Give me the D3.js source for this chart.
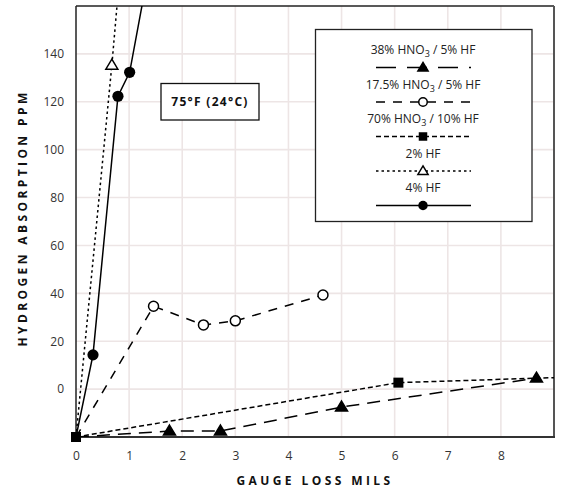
<!DOCTYPE html>
<html><head><meta charset="utf-8">
<script src="https://cdn.jsdelivr.net/npm/d3@7"></script>
<style>body{margin:0;background:#fff;} svg{display:block;font-family:"Open Sans",sans-serif;}</style>
</head><body><svg id="c" width="561" height="489"></svg>
<script>
// ---- data ----
const xTicks = [0,1,2,3,4,5,6,7,8];
const yTicks = [0,20,40,60,80,100,120,140];
const seriesNames = ["38% HNO3 / 5% HF","17.5% HNO3 / 5% HF","70% HNO3 / 10% HF","2% HF","4% HF"];
const s38x = [0, 1.76, 2.72, 5.0, 8.67];
const s38y = [-20, -17.5, -17.5, -7.5, 4.6];
const s175x = [0, 1.46, 2.4, 3.0, 4.65];
const s175y = [-20, 34.6, 26.8, 28.5, 39.3];
const s70x = [0, 6.07, 10.0];
const s70y = [-20, 2.7, 5.5];
const s2x = [0, 0.675, 0.85];
const s2y = [-20, 135.3, 180];
const s4x = [0, 0.32, 0.79, 1.01, 1.35];
const s4y = [-20, 14.3, 122.3, 132.3, 173];

const series = [
  {name: seriesNames[0], xs: s38x, ys: s38y, dash: "13,8", marker: "triFill"},
  {name: seriesNames[1], xs: s175x, ys: s175y, dash: "9,8", marker: "circOpen"},
  {name: seriesNames[2], xs: s70x, ys: s70y, dash: "5,3", marker: "square"},
  {name: seriesNames[3], xs: s2x, ys: s2y, dash: "2.5,3", marker: "triOpen"},
  {name: seriesNames[4], xs: s4x, ys: s4y, dash: null, marker: "circFill"}
];

const svg = d3.select("#c");
const L = 76, R = 554, T = 6, B = 437;
const x = d3.scaleLinear().domain([0, 9]).range([L, R]);
const y = d3.scaleLinear().domain([-20, 160]).range([B, T]);

// grid
const grid = svg.append("g");
grid.selectAll("line.v").data(xTicks.filter(d => d > 0)).join("line")
  .attr("x1", d => x(d)).attr("x2", d => x(d)).attr("y1", T).attr("y2", B)
  .attr("stroke", "#ede5e5").attr("stroke-width", 1.6);
grid.selectAll("line.h").data(yTicks).join("line")
  .attr("y1", d => y(d)).attr("y2", d => y(d)).attr("x1", L).attr("x2", R)
  .attr("stroke", "#ede5e5").attr("stroke-width", 1.6);

// axes (labels only)
const xAxis = svg.append("g").attr("transform", `translate(0,${B})`)
  .call(d3.axisBottom(x).tickValues(xTicks).tickSize(0).tickPadding(14).tickFormat(d3.format("d")));
xAxis.select(".domain").remove();
xAxis.selectAll("text").attr("font-size", 12).attr("fill", "#333").attr("font-family", "Open Sans");
const yAxis = svg.append("g").attr("transform", `translate(${L},0)`)
  .call(d3.axisLeft(y).tickValues(yTicks).tickSize(0).tickPadding(12).tickFormat(d3.format("d")));
yAxis.select(".domain").remove();
yAxis.selectAll("text").attr("font-size", 12).attr("fill", "#333").attr("font-family", "Open Sans");

// frame
svg.append("line").attr("x1", L).attr("x2", R).attr("y1", T).attr("y2", T).attr("stroke", "#222").attr("stroke-width", 1.5);
svg.append("line").attr("x1", L).attr("x2", L).attr("y1", T).attr("y2", B).attr("stroke", "#222").attr("stroke-width", 1.5);
svg.append("line").attr("x1", R).attr("x2", R).attr("y1", T).attr("y2", B).attr("stroke", "#555").attr("stroke-width", 2);
svg.append("line").attr("x1", L).attr("x2", R + 1).attr("y1", B).attr("y2", B).attr("stroke", "#333").attr("stroke-width", 2);

// clip
svg.append("clipPath").attr("id", "clip").append("rect").attr("x", L).attr("y", T).attr("width", R - L).attr("height", B - T);

const line = d3.line().x(d => x(d[0])).y(d => y(d[1]));

function drawMarker(g, type, cx, cy, s) {
  s = s || 1;
  if (type === "triFill" || type === "triOpen") {
    const h = 10 * s, w = 12 * s;
    g.append("path").attr("d", `M${cx},${cy - h * 0.6}L${cx + w / 2},${cy + h * 0.4}L${cx - w / 2},${cy + h * 0.4}Z`)
      .attr("fill", type === "triFill" ? "#000" : "#fff").attr("stroke", "#000").attr("stroke-width", 1.5);
  } else if (type === "circFill") {
    g.append("circle").attr("cx", cx).attr("cy", cy).attr("r", 5.6 * s).attr("fill", "#000");
  } else if (type === "circOpen") {
    g.append("circle").attr("cx", cx).attr("cy", cy).attr("r", 5 * s).attr("fill", "#fff").attr("stroke", "#000").attr("stroke-width", 1.5);
  } else if (type === "square") {
    const a = 10 * s;
    g.append("rect").attr("x", cx - a / 2).attr("y", cy - a / 2).attr("width", a).attr("height", a).attr("fill", "#000");
  }
}

const plotG = svg.append("g");
series.forEach(s => {
  const pts = s.xs.map((v, i) => [v, s.ys[i]]);
  plotG.append("path").attr("d", line(pts)).attr("clip-path", "url(#clip)")
    .attr("fill", "none").attr("stroke", "#000").attr("stroke-width", 1.5)
    .attr("stroke-dasharray", s.dash);
});
series.forEach(s => {
  s.xs.forEach((v, i) => {
    const yy = s.ys[i];
    if (v > 9 || yy > 160) return;
    if (v === 0 && yy === -20 && s.marker !== "square") return;
    drawMarker(plotG, s.marker, x(v), y(yy), 1);
  });
});

// temperature label
const tg = svg.append("g");
tg.append("rect").attr("x", 161).attr("y", 83.5).attr("width", 98).attr("height", 36.5)
  .attr("fill", "#fff").attr("stroke", "#111").attr("stroke-width", 1.3);
tg.append("text").attr("x", 210).attr("y", 106).attr("text-anchor", "middle")
  .attr("font-size", 12).attr("font-weight", "bold").attr("letter-spacing", "1.3px").attr("fill", "#111")
  .text("75°F (24°C)");

// legend
const lg = svg.append("g");
lg.append("rect").attr("x", 315.5).attr("y", 29.5).attr("width", 216.5).attr("height", 192)
  .attr("fill", "#fff").attr("stroke", "#222").attr("stroke-width", 1.3);
const lx = 423;
series.forEach((s, i) => {
  const ty = 54 + i * 34.5;
  const t = lg.append("text").attr("x", lx).attr("y", ty).attr("text-anchor", "middle")
    .attr("font-size", 12).attr("fill", "#222");
  const m = s.name.match(/^(.*HNO)3(.*)$/);
  if (m) {
    t.append("tspan").text(m[1]);
    t.append("tspan").attr("font-size", 9).attr("dy", 3).text("3");
    t.append("tspan").attr("dy", -3).text(m[2]);
  } else t.text(s.name);
  const ly = ty + 13.5;
  lg.append("line").attr("x1", lx - 47).attr("x2", lx + 48).attr("y1", ly).attr("y2", ly)
    .attr("stroke", "#000").attr("stroke-width", 1.5).attr("stroke-dasharray", i === 0 ? "20,11" : s.dash);
  drawMarker(lg, s.marker, lx, ly, 0.85);
});

// axis titles
svg.append("text").attr("x", 315).attr("y", 485).attr("text-anchor", "middle")
  .attr("font-size", 12).attr("font-weight", "bold").attr("letter-spacing", "3.4px").attr("fill", "#111")
  .text("GAUGE LOSS MILS");
svg.append("text").attr("transform", "translate(27,218) rotate(-90)").attr("text-anchor", "middle")
  .attr("font-size", 12).attr("font-weight", "bold").attr("letter-spacing", "3.4px").attr("fill", "#111")
  .text("HYDROGEN ABSORPTION PPM");
</script></body></html>
